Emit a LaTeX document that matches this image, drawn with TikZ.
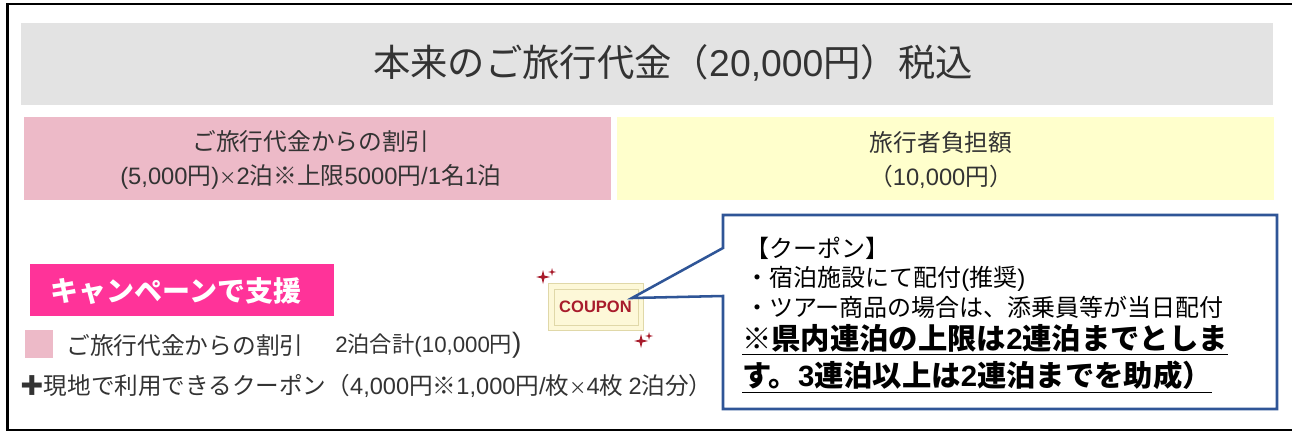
\documentclass[tikz,border=0pt]{standalone}
\usepackage{fontspec}
\setmainfont{Noto Sans CJK JP}
\newfontfamily\latf{Liberation Sans}
\newcommand{\lt}[1]{{\latf #1}}
\newcommand{\tm}{{\fontsize{13}{13}\selectfont ×}}
\usetikzlibrary{calc}
\definecolor{greyband}{HTML}{E3E3E3}
\definecolor{pinkband}{HTML}{EDBAC8}
\definecolor{yellowband}{HTML}{FFFFCC}
\definecolor{hotpink}{HTML}{FF3399}
\definecolor{bluebox}{HTML}{2F5597}
\definecolor{inktext}{HTML}{333333}
\definecolor{couponred}{HTML}{A81C2C}
\definecolor{couponbg}{HTML}{FDF8D8}
\definecolor{couponedge}{HTML}{E0D8A8}
\newcommand{\sparkle}[3]{\fill[couponred] (#1-#3,#2) -- (#1-#3*0.2,#2-#3*0.2) -- (#1,#2-#3) -- (#1+#3*0.2,#2-#3*0.2) -- (#1+#3,#2) -- (#1+#3*0.2,#2+#3*0.2) -- (#1,#2+#3) -- (#1-#3*0.2,#2+#3*0.2) -- cycle;}
\tikzset{
 x=0.75pt,y=-0.75pt,
 band/.style={anchor=north west,inner sep=0pt,outer sep=0pt},
 bandtext/.style={inner sep=0pt,align=center,text=inktext},
 lab/.style={anchor=west,inner sep=0pt,text=inktext}
}
\begin{document}
\begin{tikzpicture}
\useasboundingbox (0,0) rectangle (1292,431);
\fill[white] (0,0) rectangle (1292,431);
\draw[black,line width=1.9pt] (1292,4) -- (7.5,4) -- (7.5,430) -- (1292,430);
\node[band,fill=greyband,minimum width=939pt,minimum height=61.5pt] (title) at (21,23) {};
\node[bandtext,font=\fontsize{28}{32}\selectfont] (titlet) at (673,63) {本来のご旅行代金（\lt{20,000}円）税込};
\node[band,fill=pinkband,minimum width=440pt,minimum height=62pt] (disc) at (24,117) {};
\node[bandtext,font=\fontsize{17.8}{25.5}\selectfont] (disct) at (311,160) {ご旅行代金からの割引\\\lt{(5,000}円\lt{)}\tm\lt{2}泊※上限\lt{5000}円\lt{/1}名\lt{1}泊};
\node[band,fill=yellowband,minimum width=492.75pt,minimum height=62pt] (pay) at (617,117) {};
\node[bandtext,font=\fontsize{17.8}{25.5}\selectfont] (payt) at (941,160) {旅行者負担額\\（\lt{10,000}円）};
\node[anchor=north west,fill=hotpink,minimum width=228pt,minimum height=39pt,inner sep=0pt] (camp) at (30,264) {};
\node[inner sep=0pt,text=white,font=\fontsize{21}{24}\selectfont\bfseries] (campt) at (176,291) {キャンペーンで支援};
\node[anchor=north west,fill=pinkband,minimum width=21pt,minimum height=21pt,inner sep=0pt] (sw) at (25,330) {};
\node[lab,font=\fontsize{17.8}{20}\selectfont] (l1) at (66,345) {ご旅行代金からの割引};
\node[lab,font=\fontsize{16.7}{18}\selectfont] (l2) at (335,345) {\lt{2}泊合計\lt{(10,000}円{\fontsize{21}{21}\selectfont\lt{)}}};
\node[lab,font=\fontsize{17.7}{20}\selectfont] (l3) at (20,386) {✚現地で利用できるクーポン（\lt{4,000}円※\lt{1,000}円\lt{/}枚\tm\lt{4}枚 \lt{2}泊分）};
\node[anchor=north west,fill=couponbg,draw=couponedge,line width=1pt,minimum width=71pt,minimum height=35pt,inner sep=0pt] (coupon) at (548,283) {};
\draw[couponedge,line width=0.6pt] ($(coupon.north west)+(6,6)$) rectangle ($(coupon.south east)+(-6,-6)$);
\node[inner sep=0pt,text=couponred,font=\fontsize{12.4}{12.4}\selectfont\bfseries\latf] (coupont) at (595.5,307) {COUPON};
\sparkle{543}{277}{7}
\sparkle{552}{272}{4}
\sparkle{641}{341}{7}
\sparkle{649}{336}{4}
\coordinate (tip) at (632,298);
\draw[bluebox,line width=1.9pt,fill=white] (723,215) -- (1277,215) -- (1277,409) -- (723,409) -- (723,296) -- (tip) -- (723,248) -- cycle;
\node[anchor=north west,inner sep=0pt,align=left,text=black,font=\fontsize{18}{22}\selectfont] (t1) at (745,237) {【クーポン】\\・宿泊施設にて配付\lt{(}推奨\lt{)}\\・ツアー商品の場合は、添乗員等が当日配付};
\node[anchor=north west,inner sep=0pt,align=left,text=black,font=\fontsize{22}{27.75}\selectfont\bfseries] (t2) at (742,324.5) {\underline{※県内連泊の上限は\lt{\bfseries 2}連泊までとしま}\\\underline{す。\lt{\bfseries 3}連泊以上は\lt{\bfseries 2}連泊までを助成）}};
\end{tikzpicture}
\end{document}
